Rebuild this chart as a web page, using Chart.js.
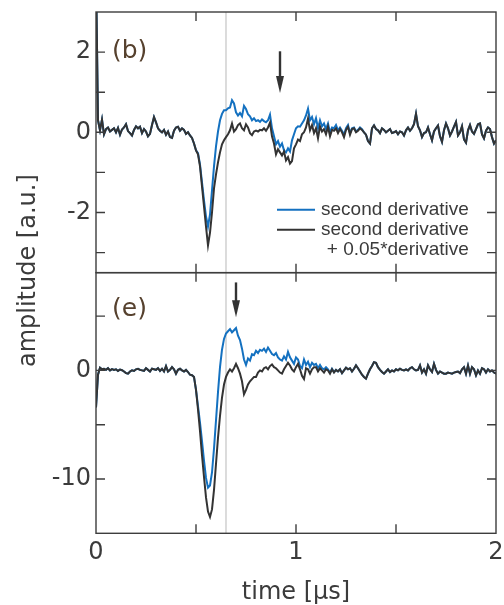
<!DOCTYPE html>
<html>
<head>
<meta charset="utf-8">
<title>second derivative signals</title>
<script src="https://cdn.jsdelivr.net/npm/chart.js@4.4.1/dist/chart.umd.min.js"></script>
<style>
  html, body { margin: 0; padding: 0; background: #fff; }
  #wrap { width: 504px; height: 605px; }
</style>
</head>
<body>
<div id="wrap"><canvas id="sigChart" width="504" height="605"></canvas></div>
<script>
// sampling step of the traces, in µs
const dt = 0.01;

// panel (b): second derivative + 0.05*derivative
const topMixed = [
  4.00, 0.30, 0.05, 0.32, -0.05, 0.08, 0.12, 0.02, 0.06, 0.10,
  0.00, 0.11, -0.06, 0.07, 0.12, 0.20, 0.03, -0.02, -0.08, 0.06,
  0.15, 0.10, 0.14, -0.02, 0.08, 0.02, -0.10, -0.04, 0.18, 0.38,
  0.25, 0.10, 0.04, 0.00, 0.06, -0.06, 0.02, -0.12, -0.14, 0.04,
  0.12, 0.14, 0.04, 0.10, 0.06, -0.04, 0.00, -0.08, -0.14, -0.28,
  -0.45, -0.55, -0.85, -1.35, -1.85, -2.35, -2.82, -2.50, -2.00, -1.40,
  -1.05, -0.75, -0.50, -0.30, -0.20, -0.12, -0.05, 0.05, 0.22, 0.02,
  0.08, 0.18, 0.22, 0.10, 0.05, 0.20, 0.12, -0.02, -0.07, 0.02,
  0.04, 0.02, 0.06, 0.05, 0.10, 0.04, 0.12, 0.24, -0.10, -0.28,
  -0.55, -0.42, -0.50, -0.58, -0.48, -0.70, -0.62, -0.78, -0.72, -0.40,
  -0.30, -0.18, -0.22, -0.05, 0.00, 0.12, 0.34, 0.05, 0.18, -0.02,
  0.10, -0.15, 0.15, 0.02, 0.08, -0.05, 0.14, -0.10, 0.06, 0.04,
  0.10, -0.02, 0.08, 0.00, -0.12, 0.06, 0.14, -0.06, 0.08, 0.10,
  0.00, 0.04, 0.10, 0.06, 0.00, -0.06, -0.22, -0.28, 0.10, 0.17,
  0.08, 0.05, -0.02, 0.10, 0.06, 0.00, 0.04, 0.08, -0.02, 0.00,
  0.03, -0.05, 0.02, 0.00, -0.08, 0.05, 0.12, 0.04, 0.10, 0.20,
  0.46, 0.15, 0.05, -0.12, -0.02, 0.00, 0.12, -0.05, -0.20, 0.02,
  0.10, 0.17, -0.10, -0.24, 0.05, 0.22, 0.10, -0.08, 0.02, 0.14,
  0.26, -0.08, 0.00, 0.15, -0.18, -0.26, 0.05, 0.18, 0.02, -0.04,
  0.08, 0.20, 0.22, -0.05, -0.15, 0.04, 0.12, 0.08, -0.12, -0.28,
  -0.20
];

// panel (b): second derivative
const topSecond = [
  4.00, 0.30, 0.05, 0.32, -0.05, 0.08, 0.12, 0.02, 0.06, 0.10,
  0.00, 0.11, -0.06, 0.07, 0.12, 0.20, 0.03, -0.02, -0.08, 0.06,
  0.15, 0.10, 0.14, -0.02, 0.08, 0.02, -0.10, -0.04, 0.18, 0.38,
  0.25, 0.10, 0.04, 0.00, 0.06, -0.06, 0.02, -0.12, -0.14, 0.04,
  0.12, 0.14, 0.04, 0.10, 0.06, -0.04, 0.00, -0.08, -0.14, -0.28,
  -0.45, -0.52, -0.80, -1.25, -1.70, -2.10, -2.35, -2.05, -1.45, -0.85,
  -0.35, 0.02, 0.30, 0.46, 0.55, 0.55, 0.60, 0.62, 0.80, 0.72,
  0.50, 0.42, 0.48, 0.40, 0.66, 0.58, 0.45, 0.40, 0.30, 0.35,
  0.28, 0.30, 0.26, 0.32, 0.28, 0.25, 0.30, 0.44, 0.10, -0.10,
  -0.30, -0.22, -0.36, -0.28, -0.45, -0.50, -0.40, -0.48, -0.20, -0.05,
  0.10, 0.15, 0.14, 0.22, 0.30, 0.42, 0.59, 0.30, 0.38, 0.20,
  0.35, 0.10, 0.30, 0.15, 0.22, 0.08, 0.22, 0.00, 0.12, 0.10,
  0.18, 0.05, 0.12, 0.04, -0.06, 0.10, 0.18, -0.02, 0.10, 0.12,
  0.02, 0.06, 0.12, 0.08, 0.00, -0.06, -0.22, -0.28, 0.10, 0.17,
  0.08, 0.05, -0.02, 0.10, 0.06, 0.00, 0.04, 0.08, -0.02, 0.00,
  0.03, -0.05, 0.02, 0.00, -0.08, 0.05, 0.12, 0.04, 0.10, 0.20,
  0.46, 0.15, 0.05, -0.12, -0.02, 0.00, 0.12, -0.05, -0.20, 0.02,
  0.10, 0.17, -0.10, -0.24, 0.05, 0.22, 0.10, -0.08, 0.02, 0.14,
  0.26, -0.08, 0.00, 0.15, -0.18, -0.26, 0.05, 0.18, 0.02, -0.04,
  0.08, 0.20, 0.22, -0.05, -0.15, 0.04, 0.12, 0.08, -0.12, -0.28,
  -0.20
];

// panel (e): second derivative + 0.05*derivative
const botMixed = [
  -3.40, -0.40, 0.25, 0.10, 0.15, 0.05, 0.20, 0.00, 0.12, 0.05,
  0.10, -0.05, 0.08, 0.02, -0.10, -0.25, -0.30, -0.10, 0.00, -0.05,
  0.10, 0.15, 0.05, 0.00, -0.05, 0.20, 0.05, -0.10, 0.15, 0.10,
  0.05, 0.20, -0.05, 0.15, -0.10, 0.40, -0.10, 0.05, 0.30, 0.10,
  -0.30, 0.05, 0.15, 0.00, -0.10, 0.05, -0.15, -0.40, -0.45, -0.60,
  -1.80, -3.60, -5.60, -7.80, -9.80, -11.70, -13.00, -13.50, -12.80, -11.00,
  -8.60, -6.20, -4.20, -2.50, -1.30, -0.60, -0.20, 0.10, -0.10, 0.20,
  0.60, 0.20, -0.30, -1.00, -2.20, -1.80, -1.30, -1.00, -0.80, -0.60,
  -0.60, -0.20, 0.00, -0.10, 0.20, 0.30, 0.10, 0.40, 0.55, 0.30,
  0.20, 0.00, -0.20, -0.30, 0.10, 0.40, 0.70, 0.45, 0.10, -0.10,
  0.30, 0.60, 0.10, -0.50, -0.80, 0.20, 0.10, -0.30, 0.10, 0.30,
  0.30, -0.10, 0.20, 0.00, -0.20, 0.10, 0.00, -0.30, 0.10, -0.20,
  0.05, -0.10, 0.10, -0.25, 0.00, 0.25, 0.10, 0.20, -0.10, 0.15,
  0.46, 0.20, -0.10, -0.40, -0.60, -0.76, -0.30, 0.10, 0.40, 0.76,
  0.70, 0.30, 0.05, -0.15, -0.30, -0.10, 0.10, -0.15, 0.00, -0.10,
  0.10, 0.00, 0.15, 0.05, 0.00, 0.10, 0.00, 0.20, 0.30, 0.10,
  0.00, 0.05, 0.46, -0.20, 0.10, -0.30, 0.46, 0.10, -0.15, 0.60,
  0.05, -0.30, -0.10, -0.20, -0.30, -0.30, -0.20, -0.25, -0.30, -0.20,
  -0.15, -0.10, -0.25, 0.10, 0.30, -0.30, 0.46, -0.30, 0.30, 0.10,
  -0.46, 0.00, -0.30, 0.20, 0.10, -0.20, 0.10, -0.10, 0.00, -0.20,
  -0.30
];

// panel (e): second derivative
const botSecond = [
  -3.40, -0.40, 0.25, 0.10, 0.15, 0.05, 0.20, 0.00, 0.12, 0.05,
  0.10, -0.05, 0.08, 0.02, -0.10, -0.25, -0.30, -0.10, 0.00, -0.05,
  0.10, 0.15, 0.05, 0.00, -0.05, 0.20, 0.05, -0.10, 0.15, 0.10,
  0.05, 0.20, -0.05, 0.15, -0.10, 0.40, -0.10, 0.05, 0.30, 0.10,
  -0.30, 0.05, 0.15, 0.00, -0.10, 0.05, -0.15, -0.40, -0.45, -0.60,
  -1.80, -3.30, -4.80, -6.50, -8.30, -9.90, -10.80, -10.60, -9.40, -7.20,
  -4.60, -2.00, 0.30, 1.90, 2.90, 3.40, 3.60, 3.80, 3.50, 3.70,
  3.90, 3.20, 2.80, 2.00, 1.00, 0.50, 1.10, 0.90, 1.50, 1.40,
  1.80, 1.60, 1.90, 1.80, 2.00, 1.70, 2.10, 1.80, 1.50, 1.40,
  1.60, 1.20, 1.00, 0.90, 1.30, 1.00, 1.70, 1.20, 0.90, 0.60,
  1.20, 1.00, 0.40, 0.20, 1.00, 0.50, 0.80, 0.30, 0.70, 0.50,
  0.60, 0.20, 0.50, 0.20, 0.10, 0.30, 0.10, -0.20, 0.15, -0.15,
  0.05, -0.10, 0.10, -0.25, 0.00, 0.25, 0.10, 0.20, -0.10, 0.15,
  0.46, 0.20, -0.10, -0.40, -0.60, -0.76, -0.30, 0.10, 0.40, 0.76,
  0.70, 0.30, 0.05, -0.15, -0.30, -0.10, 0.10, -0.15, 0.00, -0.10,
  0.10, 0.00, 0.15, 0.05, 0.00, 0.10, 0.00, 0.20, 0.30, 0.10,
  0.00, 0.05, 0.46, -0.20, 0.10, -0.30, 0.46, 0.10, -0.15, 0.60,
  0.05, -0.30, -0.10, -0.20, -0.30, -0.30, -0.20, -0.25, -0.30, -0.20,
  -0.15, -0.10, -0.25, 0.10, 0.30, -0.30, 0.46, -0.30, 0.30, 0.10,
  -0.46, 0.00, -0.30, 0.20, 0.10, -0.20, 0.10, -0.10, 0.00, -0.20,
  -0.30
];

// tick labels and tick marks
const xLabels = [0, 1, 2];
const xMarks = [0.5, 1, 1.5];
const topLabels = [-2, 0, 2];
const topMarks = [-3, -2, -1, 0, 1, 2];
const botLabels = [-10, 0];
const botMarks = [-10, -5, 0, 5];

// reference time line and the arrows (time, from, to)
const markerTime = 0.65;
const topArrow = [0.92, 2.02, 0.98];
const botArrow = [0.70, 8.1, 4.9];

const blue = '#1471c0';
const dark = '#333333';
const textColor = '#3b3b3b';
const axisFamily = "'DejaVu Sans', sans-serif";
const legendFamily = "'Liberation Sans', Arial, sans-serif";

const toPoints = vals => vals.map((v, i) => ({ x: +(i * dt).toFixed(2), y: v }));
const fixedTicks = list => scale => { scale.ticks = list.map(v => ({ value: v })); };

const panelDecor = {
    id: 'panelDecor',
    beforeDatasetsDraw(chart) {
        const { ctx, chartArea, scales: { x } } = chart;
        const px = x.getPixelForValue(markerTime);
        ctx.save();
        ctx.strokeStyle = '#c4c4c4';
        ctx.lineWidth = 1.2;
        ctx.beginPath();
        ctx.moveTo(px, chartArea.top);
        ctx.lineTo(px, chartArea.bottom);
        ctx.stroke();
        ctx.restore();
    },
    afterDraw(chart) {
        const { ctx, scales: { x, yTop, yBot } } = chart;
        const L = 9;
        ctx.save();

        // frames and inward ticks
        ctx.strokeStyle = '#3d3d3d';
        ctx.lineWidth = 1.4;
        [[yTop, topMarks], [yBot, botMarks]].forEach(([s, marks]) => {
            ctx.strokeRect(x.left, s.top, x.right - x.left, s.bottom - s.top);
            ctx.beginPath();
            marks.forEach(v => {
                const py = s.getPixelForValue(v);
                ctx.moveTo(x.left, py); ctx.lineTo(x.left + L, py);
                ctx.moveTo(x.right, py); ctx.lineTo(x.right - L, py);
            });
            xMarks.forEach(v => {
                const px = x.getPixelForValue(v);
                ctx.moveTo(px, s.top); ctx.lineTo(px, s.top + L);
                ctx.moveTo(px, s.bottom); ctx.lineTo(px, s.bottom - L);
            });
            ctx.stroke();
        });

        // arrows
        ctx.fillStyle = dark;
        ctx.strokeStyle = dark;
        [[yTop, topArrow], [yBot, botArrow]].forEach(([s, a]) => {
            const px = x.getPixelForValue(a[0]);
            const y0 = s.getPixelForValue(a[1]);
            const y1 = s.getPixelForValue(a[2]);
            const head = 17;
            ctx.lineWidth = 2.4;
            ctx.beginPath();
            ctx.moveTo(px, y0);
            ctx.lineTo(px, y1 - head + 2);
            ctx.stroke();
            ctx.beginPath();
            ctx.moveTo(px - 4, y1 - head);
            ctx.lineTo(px + 4, y1 - head);
            ctx.lineTo(px, y1);
            ctx.closePath();
            ctx.fill();
        });

        // panel letters
        ctx.fillStyle = '#56412e';
        ctx.font = `25px ${axisFamily}`;
        ctx.textAlign = 'left';
        ctx.textBaseline = 'middle';
        ctx.fillText('(b)', x.left + 16, yTop.top + 39);
        ctx.fillText('(e)', x.left + 16, yBot.top + 37);

        // legend
        ctx.font = `19px ${legendFamily}`;
        ctx.fillStyle = textColor;
        const lx = x.right - 219;
        const ly = yTop.bottom - 63;
        const entries = [chart.data.datasets[1], chart.data.datasets[0]];
        entries.forEach((ds, i) => {
            const rowY = ly + i * 20;
            ctx.strokeStyle = ds.borderColor;
            ctx.lineWidth = 2;
            ctx.beginPath();
            ctx.moveTo(lx, rowY);
            ctx.lineTo(lx + 38, rowY);
            ctx.stroke();
            const lines = [].concat(ds.label);
            ctx.textAlign = 'left';
            ctx.fillText(lines[0], lx + 44, rowY);
            if (lines[1]) {
                const w = ctx.measureText(lines[0]).width;
                ctx.textAlign = 'right';
                ctx.fillText(lines[1], lx + 44 + w, rowY + 20);
            }
        });

        // shared y axis title
        ctx.font = `24px ${axisFamily}`;
        ctx.fillStyle = textColor;
        ctx.textAlign = 'center';
        ctx.translate(29, (yTop.top + yBot.bottom) / 2 - 2);
        ctx.rotate(-Math.PI / 2);
        ctx.fillText('amplitude [a.u.]', 0, 0);
        ctx.restore();
    }
};

const tickFont = { family: axisFamily, size: 24 };
const yCommon = {
    position: 'left',
    stack: 'amp',
    stackWeight: 1,
    grid: { display: false, drawTicks: false },
    border: { display: false },
    ticks: { font: tickFont, color: textColor, padding: 5 },
    afterFit: s => {
        s.width = 96;
        s.paddingTop = 0;
        s.paddingBottom = 0;
    }
};

new Chart(document.getElementById('sigChart'), {
    type: 'line',
    data: {
        datasets: [
            { label: ['second derivative', '+ 0.05*derivative'], data: toPoints(topMixed), yAxisID: 'yTop', borderColor: dark, order: 0 },
            { label: 'second derivative', data: toPoints(topSecond), yAxisID: 'yTop', borderColor: blue, order: 1 },
            { label: ['second derivative', '+ 0.05*derivative'], data: toPoints(botMixed), yAxisID: 'yBot', borderColor: dark, order: 0 },
            { label: 'second derivative', data: toPoints(botSecond), yAxisID: 'yBot', borderColor: blue, order: 1 }
        ]
    },
    options: {
        responsive: false,
        animation: false,
        layout: { padding: { top: 12, right: 8, left: 0, bottom: 0 } },
        elements: {
            point: { radius: 0 },
            line: { borderWidth: 2, tension: 0 }
        },
        plugins: {
            legend: { display: false },
            tooltip: { enabled: false }
        },
        scales: {
            x: {
                type: 'linear',
                min: 0,
                max: 2,
                afterBuildTicks: fixedTicks(xLabels),
                grid: { display: false, drawTicks: false },
                border: { display: false },
                ticks: { font: tickFont, color: textColor, padding: 5, maxRotation: 0, autoSkip: false },
                title: {
                    display: true,
                    text: 'time [µs]',
                    color: textColor,
                    font: { family: axisFamily, size: 24, lineHeight: 1 },
                    padding: { top: 0, bottom: 0 }
                },
                afterFit: s => {
                    s.height = 71.7;
                    s.paddingLeft = 0;
                    s.paddingRight = 0;
                }
            },
            yBot: { ...yCommon, min: -15, max: 9, afterBuildTicks: fixedTicks(botLabels) },
            yTop: { ...yCommon, min: -3.5, max: 3, afterBuildTicks: fixedTicks(topLabels) }
        }
    },
    plugins: [panelDecor]
});
</script>
</body>
</html>
